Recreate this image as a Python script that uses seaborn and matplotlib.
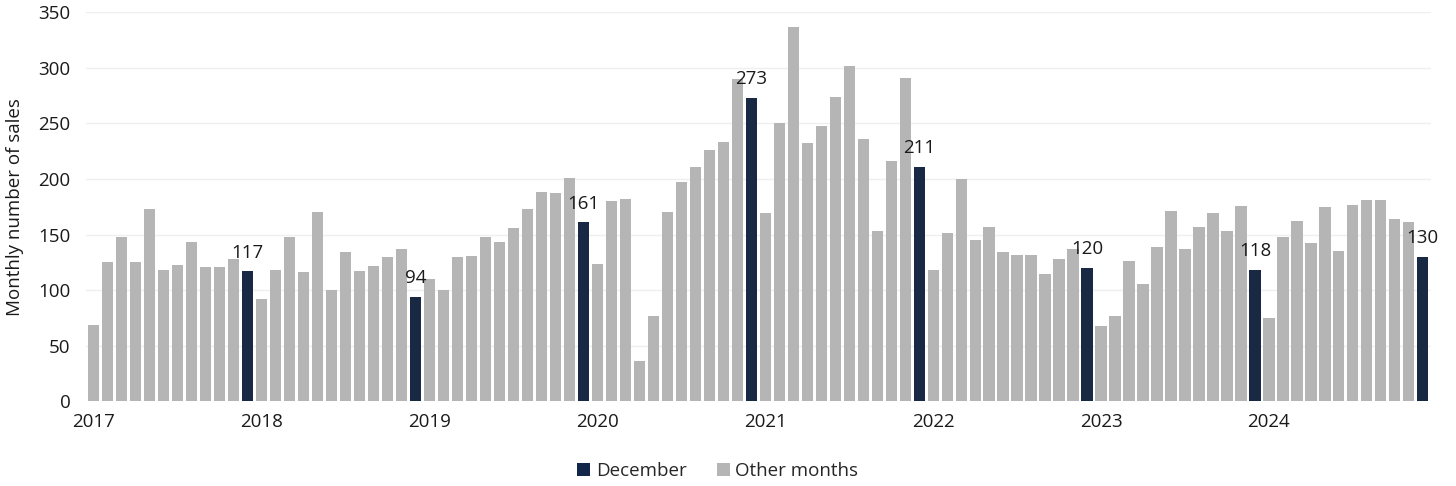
import matplotlib
matplotlib.use("Agg")
import matplotlib.pyplot as plt
import seaborn as sns
import pandas as pd
import numpy as np
from matplotlib.patches import Patch

years = ["2017", "2018", "2019", "2020", "2021", "2022", "2023", "2024"]
months = ["Jan", "Feb", "Mar", "Apr", "May", "Jun", "Jul", "Aug", "Sep", "Oct", "Nov", "Dec"]

sales_2017 = [69, 125, 148, 125, 173, 118, 123, 143, 121, 121, 128, 117]
sales_2018 = [92, 118, 148, 116, 170, 100, 134, 117, 122, 130, 137, 94]
sales_2019 = [110, 100, 130, 131, 148, 143, 156, 173, 188, 187, 201, 161]
sales_2020 = [124, 180, 182, 36, 77, 170, 197, 211, 226, 233, 290, 273]
sales_2021 = [169, 250, 337, 232, 248, 274, 302, 236, 153, 216, 291, 211]
sales_2022 = [118, 151, 200, 145, 157, 134, 132, 132, 115, 128, 137, 120]
sales_2023 = [68, 77, 126, 106, 139, 171, 137, 157, 169, 153, 176, 118]
sales_2024 = [75, 148, 162, 142, 175, 135, 177, 181, 181, 164, 161, 130]

series_labels = ["December", "Other months"]
colors = {"December": "#12264a", "Other months": "#b4b5b4"}

all_sales = (sales_2017 + sales_2018 + sales_2019 + sales_2020 +
             sales_2021 + sales_2022 + sales_2023 + sales_2024)
rows = []
for i, v in enumerate(all_sales):
    y = years[i // 12]
    m = months[i % 12]
    rows.append({"idx": i, "year": y, "month": m, "sales": v,
                 "kind": "December" if m == "Dec" else "Other months"})
df = pd.DataFrame(rows)

sns.set_theme(style="white")
plt.rcParams["font.family"] = ["Open Sans", "DejaVu Sans"]

fig = plt.figure(figsize=(14.56, 4.86), dpi=100)
ax = fig.add_axes([0.059, 0.174, 0.924, 0.801])

sns.barplot(data=df, x="idx", y="sales", hue="kind", hue_order=series_labels,
            palette=colors, dodge=False, width=0.8, errorbar=None,
            linewidth=0, ax=ax, legend=False)

ax.set_ylim(0, 350)
ax.set_xlim(-0.55, 95.6)
ax.set_yticks(np.arange(0, 351, 50))
ax.yaxis.grid(True, color="#efefef", linewidth=1)
ax.set_axisbelow(True)
for s in ax.spines.values():
    s.set_visible(False)

ax.set_xticks([i * 12 for i in range(len(years))])
ax.set_xticklabels(years)
ax.tick_params(axis="both", labelsize=13.5, colors="#1a1a1a", length=0)
ax.tick_params(axis="x", pad=8)
ax.tick_params(axis="y", pad=11)
ax.set_xlabel("")
ax.set_ylabel("Monthly number of sales", fontsize=13.5, color="#1a1a1a", labelpad=10)

dec = df[df["kind"] == "December"]
for _, r in dec.iterrows():
    ax.annotate(str(r["sales"]), (r["idx"], r["sales"]), xytext=(0, 7),
                textcoords="offset points", ha="center", va="bottom",
                fontsize=13.5, color="#1a1a1a")

handles = [Patch(facecolor=colors[k], edgecolor="none") for k in series_labels]
fig.legend(handles, series_labels, loc="center", bbox_to_anchor=(0.493, 0.03),
           ncol=2, frameon=False, fontsize=13.5, handlelength=0.7, handleheight=0.7,
           handletextpad=0.3, columnspacing=1.6)

fig.savefig("out.png", dpi=100)
